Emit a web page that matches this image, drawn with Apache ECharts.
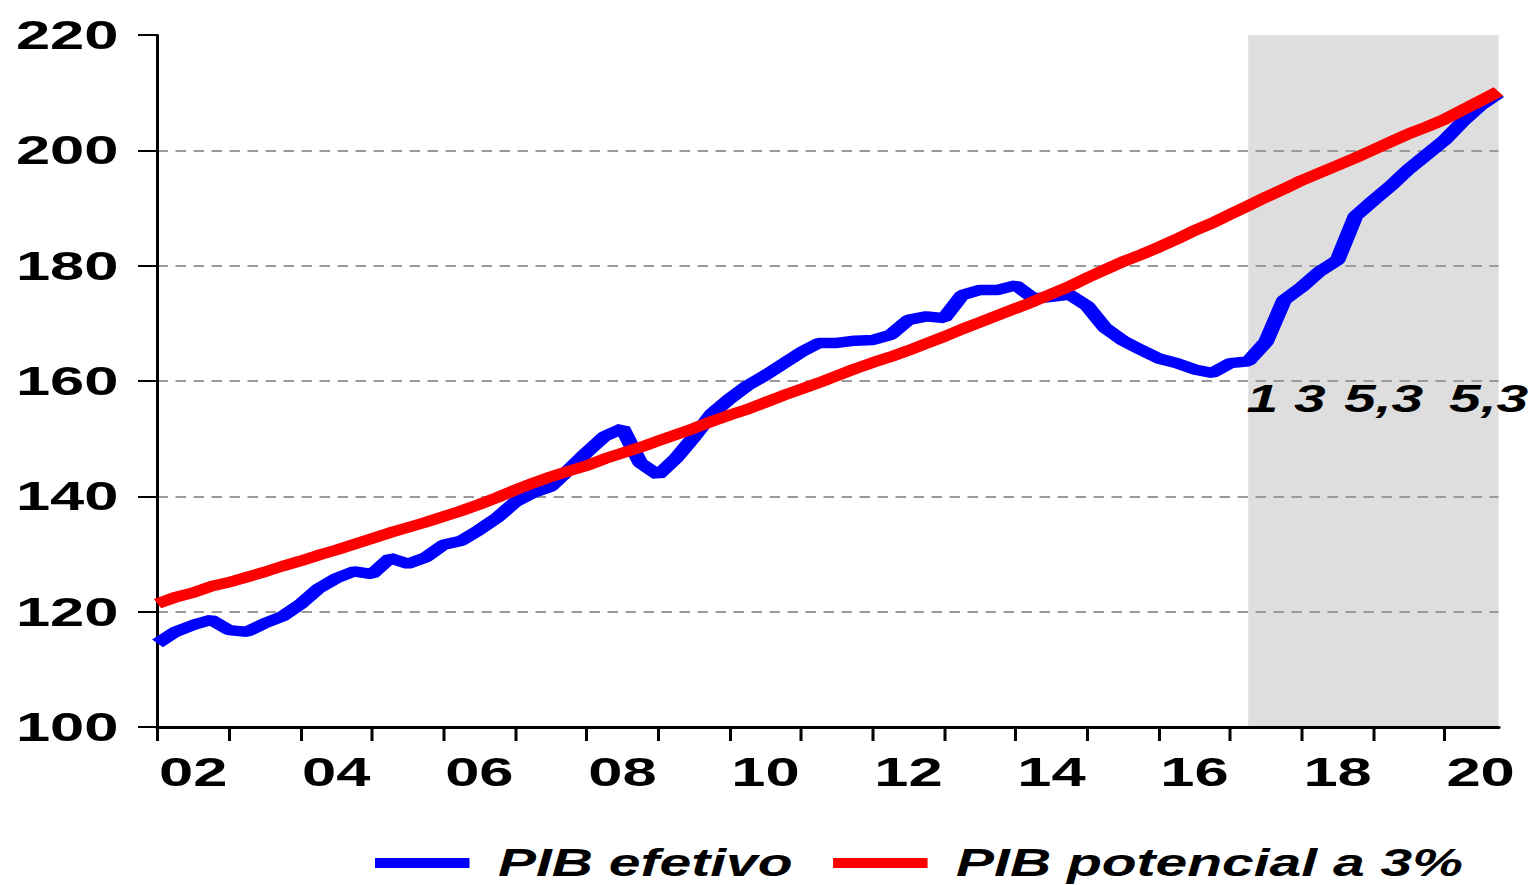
<!DOCTYPE html>
<html><head><meta charset="utf-8">
<script src="https://cdn.jsdelivr.net/npm/echarts@6/dist/echarts.min.js"></script>
<style>
html,body{margin:0;padding:0;overflow:hidden;background:#fff;}
#wrap{width:1534px;height:885px;overflow:hidden;position:relative;}
#chart{width:1023px;height:885px;transform:scaleX(1.5);transform-origin:0 0;}
</style></head><body><div id="wrap"><div id="chart"></div></div>
<script>
// Quarterly series, first observation 2002Q1
const startYear = 2002;
const pibEfetivo = [
  114.5,116.5,117.7,118.6,116.8,116.5,118.0,119.2,121.3,124.0,125.8,127.0,126.5,129.3,128.3,129.4,131.6,132.3,134.2,136.3,
  139.0,140.6,141.7,144.6,147.6,150.4,151.8,145.8,143.7,146.6,150.3,154.3,156.9,159.2,161.0,163.0,165.0,166.6,166.6,167.0,
  167.1,168.0,170.6,171.2,170.9,174.9,175.8,175.8,176.6,174.3,174.6,175.0,173.0,169.2,167.0,165.4,163.9,163.1,162.0,161.4,
  163.1,163.4,166.8,174.0,176.3,179.0,181.0,188.6,191.3,193.9,196.8,199.3,201.8,205.0,207.8,209.9
];
const pibPotencial = [
  121.4,122.5,123.3,124.4,125.1,126.0,126.9,127.9,128.8,129.8,130.7,131.7,132.7,133.7,134.6,135.5,136.5,137.5,138.6,139.8,141.1,
  142.3,143.4,144.4,145.3,146.5,147.5,148.5,149.6,150.7,151.8,153.0,154.1,155.1,156.3,157.5,158.6,159.7,160.9,162.1,163.2,
  164.2,165.3,166.5,167.7,169.0,170.2,171.4,172.6,173.8,175.1,176.4,177.9,179.3,180.7,181.9,183.2,184.6,186.1,187.4,188.9,
  190.4,191.9,193.3,194.8,196.1,197.4,198.7,200.1,201.5,202.9,204.1,205.4,207.0,208.6,210.2
];
const yearTicks = [2002,2003,2004,2005,2006,2007,2008,2009,2010,2011,2012,2013,2014,2015,2016,2017,2018,2019,2020];
const yearLabels = ['02','04','06','08','10','12','14','16','18','20'];
const yTicks = [100,120,140,160,180,200,220];
const forecastStart = 2017.25;
const forecastEnd = 2020.75;
const seriesNames = ['PIB efetivo', 'PIB potencial a 3%'];
const annotationParts = ['1 3', '5,3', '5,3'];

const FONT = 'Liberation Sans, Arial, sans-serif';
const labelPos = yearLabels.map(s => 2000 + Number(s) + 0.5);
const annotationLeft = [831, 896, 966];

const chart = echarts.init(document.getElementById('chart'), null, {renderer: 'svg'});
chart.setOption({
  animation: false,
  backgroundColor: '#ffffff',
  textStyle: {fontFamily: FONT},
  grid: {left: 105, right: 24, top: 35, bottom: 158, containLabel: false, outerBoundsMode: 'none'},
  legend: {
    left: 245, top: 838, itemWidth: 63, itemHeight: 10, itemGap: 27, icon: 'rect',
    itemStyle: {borderWidth: 0},
    textStyle: {fontFamily: FONT, fontSize: 38, lineHeight: 40, fontWeight: 'bold', fontStyle: 'italic', color: '#000', padding: [0,0,0,14]},
    data: seriesNames
  },
  xAxis: {
    type: 'value', min: 2002, max: forecastEnd, interval: 1,
    axisLine: {show: true, lineStyle: {color: '#000', width: 3}},
    axisTick: {show: true, length: 14, customValues: yearTicks, lineStyle: {color: '#000', width: 2}},
    axisLabel: {
      show: true, customValues: labelPos, margin: 24,
      fontFamily: FONT, fontSize: 41, fontWeight: 'bold', color: '#000',
      formatter: v => { const i = labelPos.indexOf(v); return i >= 0 ? yearLabels[i] : ''; }
    },
    splitLine: {show: false}
  },
  yAxis: {
    type: 'value', min: 100, max: 220, interval: 20, z: 1.5,
    axisLine: {show: true, lineStyle: {color: '#000', width: 2}},
    axisTick: {show: true, length: 13, lineStyle: {color: '#000', width: 2}},
    axisLabel: {margin: 26, fontFamily: FONT, fontSize: 41, fontWeight: 'bold', color: '#000',
      formatter: v => yTicks.indexOf(v) >= 0 ? String(v) : ''},
    splitLine: {show: true, showMinLine: false, showMaxLine: false,
      lineStyle: {color: '#9a9a9a', width: 2, type: [7, 5]}}
  },
  series: [
    {
      name: seriesNames[0], type: 'line', color: '#0000ff',
      showSymbol: false, symbol: 'none',
      lineStyle: {color: '#0000ff', width: 10.5},
      data: pibEfetivo.map((v, i) => [startYear + i / 4, v]),
      markArea: {
        silent: true, z: 0,
        itemStyle: {color: '#dedede', borderWidth: 0},
        data: [[{xAxis: forecastStart}, {xAxis: forecastEnd}]]
      }
    },
    {
      name: seriesNames[1], type: 'line', color: '#ff0000',
      showSymbol: false, symbol: 'none',
      lineStyle: {color: '#ff0000', width: 10.5},
      data: pibPotencial.map((v, i) => [startYear + i / 4, v])
    }
  ],
  graphic: annotationParts.map((t, i) => ({
    type: 'text', left: annotationLeft[i], top: 380, z: 10,
    style: {text: t, fill: '#000', font: 'italic bold 38px Liberation Sans, Arial, sans-serif'}
  }))
});
</script></body></html>
